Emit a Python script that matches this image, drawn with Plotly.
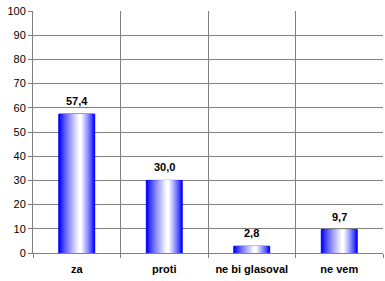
import plotly.graph_objects as go

categories = ["za", "proti", "ne bi glasoval", "ne vem"]
values = [57.4, 30.0, 2.8, 9.7]
y_ticks = list(range(0, 101, 10))

fig = go.Figure()

bar_width = 0.41
n_layers = 16
white_center = 0.04  # white band centre, relative to category centre
for i in range(n_layers):
    f = i / (n_layers - 1)
    left = -bar_width / 2 + f * (white_center + bar_width / 2) * 0.92
    right = bar_width / 2 - f * (bar_width / 2 - white_center) * 0.92
    c = int(255 * (f ** 0.8))
    color = f"rgb({c},{c},255)"
    fig.add_trace(go.Bar(
        x=categories, y=values,
        width=[right - left] * len(values),
        offset=[left] * len(values),
        marker=dict(color=color,
                    line=dict(color="#0000FF", width=1 if i == 0 else 0)),
        hoverinfo="skip", showlegend=False,
    ))

for cat, v in zip(categories, values):
    fig.add_annotation(x=cat, y=v, text=f"{v:.1f}".replace(".", ","),
                       showarrow=False, yanchor="bottom", yshift=5,
                       font=dict(family="Liberation Sans", size=11,
                                 color="black", weight="bold"))

fig.update_layout(
    barmode="overlay",
    width=385, height=281,
    margin=dict(l=33, r=2, t=11, b=28),
    paper_bgcolor="white", plot_bgcolor="white",
    font=dict(family="Liberation Sans", size=11, color="black"),
)
fig.update_xaxes(
    type="category", tickson="boundaries",
    showgrid=True, gridcolor="#808080", gridwidth=1,
    ticks="outside", ticklen=4, tickcolor="#808080",
    showline=True, linecolor="#808080", linewidth=1,
    tickfont=dict(family="Liberation Sans", size=11, weight="bold"),
    ticklabelstandoff=6,
)
fig.update_yaxes(
    range=[0, 100], tickvals=y_ticks,
    showgrid=True, gridcolor="#808080", gridwidth=1,
    ticks="outside", ticklen=4, tickcolor="#808080",
    showline=True, linecolor="#808080", linewidth=1,
    tickfont=dict(family="Liberation Sans", size=11),
    zeroline=False,
)

fig.write_html("out.html")
